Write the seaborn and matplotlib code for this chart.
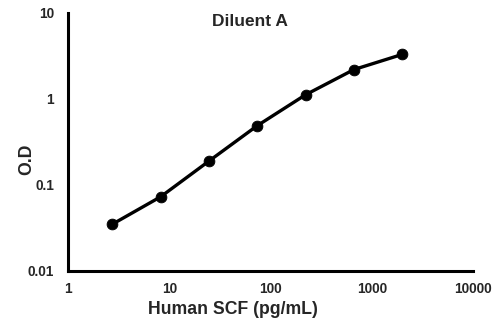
import numpy as np
import pandas as pd
import seaborn as sns
import matplotlib
matplotlib.use("Agg")
import matplotlib.pyplot as plt
from matplotlib.ticker import FixedLocator, FixedFormatter, NullLocator

# Data
conc = [2.74, 8.23, 24.7, 74.1, 222.0, 667.0, 2000.0]
od = [0.035, 0.073, 0.19, 0.49, 1.12, 2.2, 3.3]
x_ticks = [1, 10, 100, 1000, 10000]
x_tick_labels = ["1", "10", "100", "1000", "10000"]
y_ticks = [0.01, 0.1, 1, 10]
y_tick_labels = ["0.01", "0.1", "1", "10"]
title = "Diluent A"
x_label = "Human SCF (pg/mL)"
y_label = "O.D"

sns.set_style("white")
plt.rcParams['font.family'] = ['Liberation Sans', 'DejaVu Sans']
plt.rcParams['font.weight'] = 'bold'

df = pd.DataFrame({"conc": conc, "od": od})

fig = plt.figure(figsize=(5.0, 3.22), dpi=100)
ax = fig.add_axes([68/500, 1-271/322, 405/500, 258/322])

sns.lineplot(data=df, x="conc", y="od", ax=ax, color="black", linewidth=2.4, zorder=2)
sns.scatterplot(data=df, x="conc", y="od", ax=ax, color="black", s=60, edgecolor="black", zorder=3)

ax.set_xscale("log")
ax.set_yscale("log")
ax.set_xlim(1, 10000)
ax.set_ylim(0.01, 10)
ax.xaxis.set_major_locator(FixedLocator(x_ticks))
ax.xaxis.set_major_formatter(FixedFormatter(x_tick_labels))
ax.yaxis.set_major_locator(FixedLocator(y_ticks))
ax.yaxis.set_major_formatter(FixedFormatter(y_tick_labels))
ax.xaxis.set_minor_locator(NullLocator())
ax.yaxis.set_minor_locator(NullLocator())

for s in ["top", "right"]:
    ax.spines[s].set_visible(False)
for s in ["left", "bottom"]:
    ax.spines[s].set_linewidth(2.2)
    ax.spines[s].set_color("black")

ax.tick_params(axis="both", which="major", direction="out", length=3, width=2,
               color="black", labelsize=9.8)
ax.tick_params(axis="y", pad=7)
ax.tick_params(axis="x", pad=5)
for lab in ax.get_xticklabels() + ax.get_yticklabels():
    lab.set_fontweight("bold")

ax.set_xlabel("")
ax.set_ylabel("")
ax.text((250-68)/405, 1-(22-13)/258, title, transform=ax.transAxes,
        ha="center", va="center", fontsize=12.5, fontweight="bold")
fig.text(233/500, 1-309/322, x_label, ha="center", va="center",
         fontsize=12.7, fontweight="bold")
fig.text(27/500, 1-159/322, y_label, ha="center", va="center", rotation=90,
         fontsize=12.7, fontweight="bold")

fig.savefig("out.png", dpi=100)
